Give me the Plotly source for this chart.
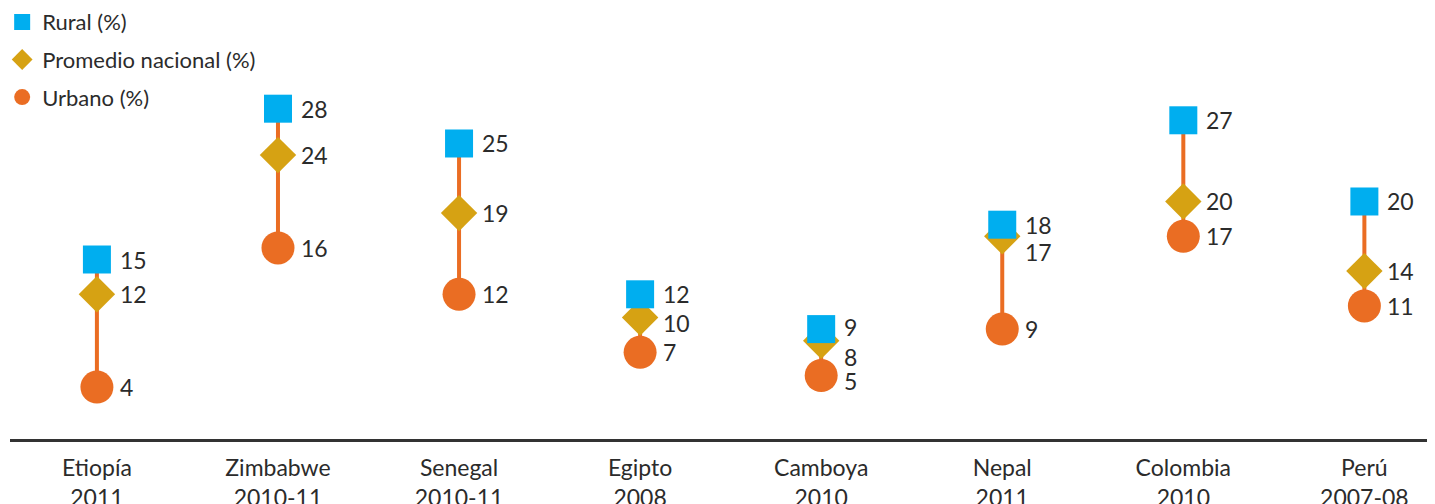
import plotly.graph_objects as go

categories = ["Etiopía<br>2011", "Zimbabwe<br>2010-11", "Senegal<br>2010-11", "Egipto<br>2008",
              "Camboya<br>2010", "Nepal<br>2011", "Colombia<br>2010", "Perú<br>2007-08"]
rural = [15, 28, 25, 12, 9, 18, 27, 20]
nacional = [12, 24, 19, 10, 8, 17, 20, 14]
urbano = [4, 16, 12, 7, 5, 9, 17, 11]

BLUE = "#00AEEF"
GOLD = "#D6A213"
ORANGE = "#EA6D23"
TEXT = "#2B2B2B"
FONT = "Lato"

x = list(range(len(categories)))

# label vertical nudges (px) to avoid overlaps, by series and category index
label_nudge = {("nacional", 4): -16, ("nacional", 5): -16, ("nacional", 3): -5,
               ("rural", 4): 2, ("urbano", 4): -5}

fig = go.Figure()

# connecting lines
lx, ly = [], []
for i in x:
    lx += [i, i, None]
    ly += [urbano[i], rural[i], None]
fig.add_trace(go.Scatter(x=lx, y=ly, mode="lines", line=dict(color=ORANGE, width=4),
                         showlegend=False, hoverinfo="skip"))

fig.add_trace(go.Scatter(x=x, y=urbano, mode="markers", name="Urbano (%)",
                         legendgroup="u", legendrank=3,
                         marker=dict(symbol="circle", size=33, color=ORANGE)))
fig.add_trace(go.Scatter(x=x, y=nacional, mode="markers", name="Promedio nacional (%)",
                         legendgroup="n", legendrank=2,
                         marker=dict(symbol="diamond", size=28, color=GOLD)))
fig.add_trace(go.Scatter(x=x, y=rural, mode="markers", name="Rural (%)",
                         legendgroup="r", legendrank=1,
                         marker=dict(symbol="square", size=28, color=BLUE)))

for key, series in (("rural", rural), ("nacional", nacional), ("urbano", urbano)):
    for i, v in enumerate(series):
        fig.add_annotation(x=i, y=v, text=str(v), showarrow=False, xanchor="left",
                           yanchor="middle", xshift=21, yshift=label_nudge.get((key, i), 0),
                           font=dict(family=FONT, size=23, color=TEXT))

fig.update_layout(
    width=1435, height=504,
    margin=dict(l=2, r=8, t=0, b=73, autoexpand=False),
    plot_bgcolor="white", paper_bgcolor="white",
    font=dict(family=FONT, color=TEXT),
    showlegend=True,
    legend=dict(x=-0.0055, y=1.016, xanchor="left", yanchor="top",
                traceorder="grouped", tracegroupgap=6,
                font=dict(family=FONT, size=22, color=TEXT),
                bgcolor="rgba(0,0,0,0)"),
)
fig.update_xaxes(range=[-0.48, 7.39], tickvals=x, ticktext=categories,
                 showgrid=False, zeroline=False, showline=True, linecolor="#333333",
                 linewidth=3, ticks="", ticklabelstandoff=6, automargin=False,
                 tickfont=dict(family=FONT, size=23, color=TEXT))
fig.update_yaxes(range=[-0.474, 36.68], visible=False, showgrid=False, zeroline=False,
                 automargin=False)

fig.write_html("out.html")
